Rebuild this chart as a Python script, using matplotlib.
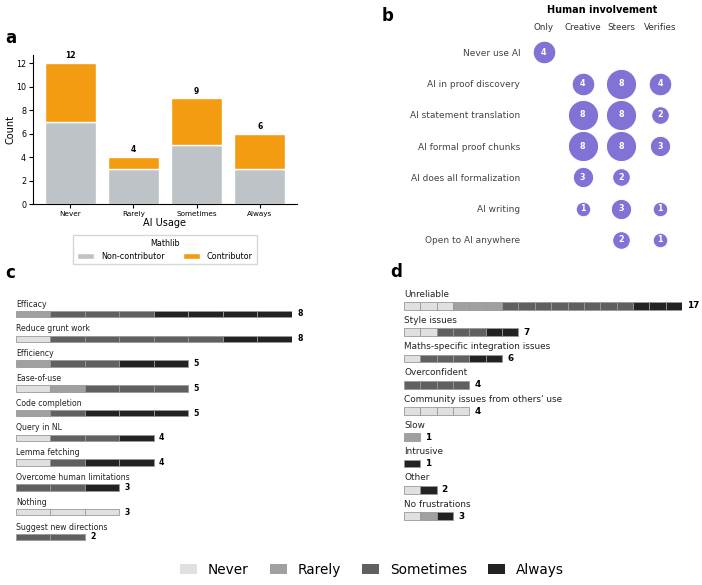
import numpy as np
import matplotlib
matplotlib.use("Agg")
import matplotlib.pyplot as plt
from matplotlib.patches import Patch

# ---- data ----
usage_levels = ["Never", "Rarely", "Sometimes", "Always"]
non_contrib = [7, 3, 5, 3]
contrib = [5, 1, 4, 3]

inv_cols = ["Only", "Creative", "Steers", "Verifies"]
inv_rows = ["Never use AI", "AI in proof discovery", "AI statement translation",
            "AI formal proof chunks", "AI does all formalization", "AI writing",
            "Open to AI anywhere"]
inv_counts = [
    [4, 0, 0, 0],
    [0, 4, 8, 4],
    [0, 8, 8, 2],
    [0, 8, 8, 3],
    [0, 3, 2, 0],
    [0, 1, 3, 1],
    [0, 0, 2, 1],
]

benefit_labels = ["Efficacy", "Reduce grunt work", "Efficiency", "Ease-of-use",
                  "Code completion", "Query in NL", "Lemma fetching",
                  "Overcome human limitations", "Nothing", "Suggest new directions"]
# counts per usage level: Never, Rarely, Sometimes, Always
benefit_counts = [
    [0, 1, 3, 4],
    [1, 0, 5, 2],
    [0, 1, 2, 2],
    [1, 1, 3, 0],
    [0, 1, 1, 3],
    [1, 0, 2, 1],
    [1, 0, 1, 2],
    [0, 0, 2, 1],
    [3, 0, 0, 0],
    [0, 0, 2, 0],
]

frustr_labels = ["Unreliable", "Style issues", "Maths-specific integration issues",
                 "Overconfident", "Community issues from others' use", "Slow",
                 "Intrusive", "Other", "No frustrations"]
frustr_counts = [
    [3, 3, 8, 3],
    [2, 0, 3, 2],
    [1, 0, 3, 2],
    [0, 0, 4, 0],
    [4, 0, 0, 0],
    [0, 1, 0, 0],
    [0, 0, 0, 1],
    [1, 0, 0, 1],
    [1, 1, 0, 1],
]

level_colors = ["#e0e0e0", "#a0a0a0", "#606060", "#222222"]

fig = plt.figure(figsize=(7.02, 5.85), dpi=100)

# ---- panel a ----
axa = fig.add_axes([0.047, 0.651, 0.376, 0.255])
x = np.arange(len(usage_levels))
axa.bar(x, non_contrib, width=0.8, color="#bdc3c7", edgecolor="white", linewidth=1, label="Non-contributor")
axa.bar(x, contrib, width=0.8, bottom=non_contrib, color="#f39c12", edgecolor="white", linewidth=1, label="Contributor")
totals = [a + b for a, b in zip(non_contrib, contrib)]
for i, t in enumerate(totals):
    axa.text(i, t + 0.25, str(t), ha="center", va="bottom", fontsize=5.5, weight="bold")
axa.set_xticks(x)
axa.set_xticklabels(usage_levels, fontsize=5.2)
axa.set_yticks(range(0, 13, 2))
axa.tick_params(axis="y", labelsize=5.8, pad=2, length=3)
axa.tick_params(axis="x", pad=2, length=3)
axa.set_ylim(0, 12.7)
axa.set_ylabel("Count", fontsize=7)
axa.yaxis.set_label_coords(-0.066, 0.5)
axa.set_xlabel("AI Usage", fontsize=7, labelpad=1)
axa.spines["top"].set_visible(False)
axa.spines["right"].set_visible(False)
axa.legend(title="Mathlib", ncol=2, loc="upper center", bbox_to_anchor=(0.5, -0.18),
           fontsize=5.8, title_fontsize=5.8, handlelength=2.1, handletextpad=0.87, columnspacing=2.3,
           frameon=True, fancybox=False, borderpad=0.45)
fig.text(0.008, 0.935, "a", fontsize=12, weight="bold", va="center")

# ---- panel b ----
axb = fig.add_axes([0.747, 0.5634, 0.221, 0.374])
for r, row in enumerate(inv_counts):
    for c, n in enumerate(row):
        if n == 0:
            continue
        axb.scatter(c, r, s=60 + 52 * n, color="#8173d6", edgecolor="white", linewidth=0.8, zorder=3)
        axb.text(c, r, str(n), ha="center", va="center", color="white", fontsize=5.8, weight="bold", zorder=4)
axb.set_xlim(-0.5, 3.5)
axb.set_ylim(6.5, -0.5)
axb.set_xticks(range(len(inv_cols)))
axb.set_xticklabels(inv_cols, fontsize=6.3, color="#333333")
axb.xaxis.tick_top()
axb.set_yticks(range(len(inv_rows)))
axb.set_yticklabels(inv_rows, fontsize=6.5, color="#444444")
axb.tick_params(length=0, pad=3)
axb.tick_params(axis="x", pad=3)
for s in axb.spines.values():
    s.set_visible(False)
axb.set_title("Human involvement", fontsize=7, weight="bold", pad=17)
fig.text(0.543, 0.972, "b", fontsize=12, weight="bold", va="center")


def stacked_units(ax, labels, counts, bar_h, label_off, fs):
    for r, cnt in enumerate(counts):
        left = 0
        for lvl, k in enumerate(cnt):
            for _ in range(k):
                ax.barh(r, 1, left=left, height=bar_h, color=level_colors[lvl],
                        edgecolor="#999999", linewidth=0.6)
                left += 1
        ax.text(0, r - label_off, labels[r], ha="left", va="center", fontsize=fs, color="#222222")
    ax.set_yticks([])
    ax.set_xticks([])
    for s in ax.spines.values():
        s.set_visible(False)


# ---- panel c ----
axc = fig.add_axes([0.0228, 0.0609, 0.393, 0.4448])
axc.set_xlim(0, 8)
axc.set_ylim(9.5, -1.0)
stacked_units(axc, benefit_labels, benefit_counts, 0.26, 0.4, 5.6)
for r, cnt in enumerate(benefit_counts):
    axc.text(sum(cnt) + 0.15, r, str(sum(cnt)), ha="left", va="center", fontsize=5.6, weight="bold")
fig.text(0.008, 0.533, "c", fontsize=12, weight="bold", va="center")

# ---- panel d ----
axd = fig.add_axes([0.5755, 0.0955, 0.396, 0.4263])
axd.set_xlim(0, 17)
axd.set_ylim(8.5, -1.0)
stacked_units(axd, frustr_labels, frustr_counts, 0.29, 0.45, 6.4)
for r, cnt in enumerate(frustr_counts):
    axd.text(sum(cnt) + 0.3, r, str(sum(cnt)), ha="left", va="center", fontsize=6.4, weight="bold")
fig.text(0.556, 0.535, "d", fontsize=12, weight="bold", va="center")

# ---- shared legend ----
handles = [Patch(facecolor=c, edgecolor="none", label=l) for c, l in zip(level_colors, usage_levels)]
fig.legend(handles=handles, loc="center", bbox_to_anchor=(0.53, 0.026), ncol=4, frameon=False,
           fontsize=9.8, handlelength=1.22, handleheight=0.75, handletextpad=0.8, columnspacing=1.58)

fig.savefig("out.png", dpi=100)
